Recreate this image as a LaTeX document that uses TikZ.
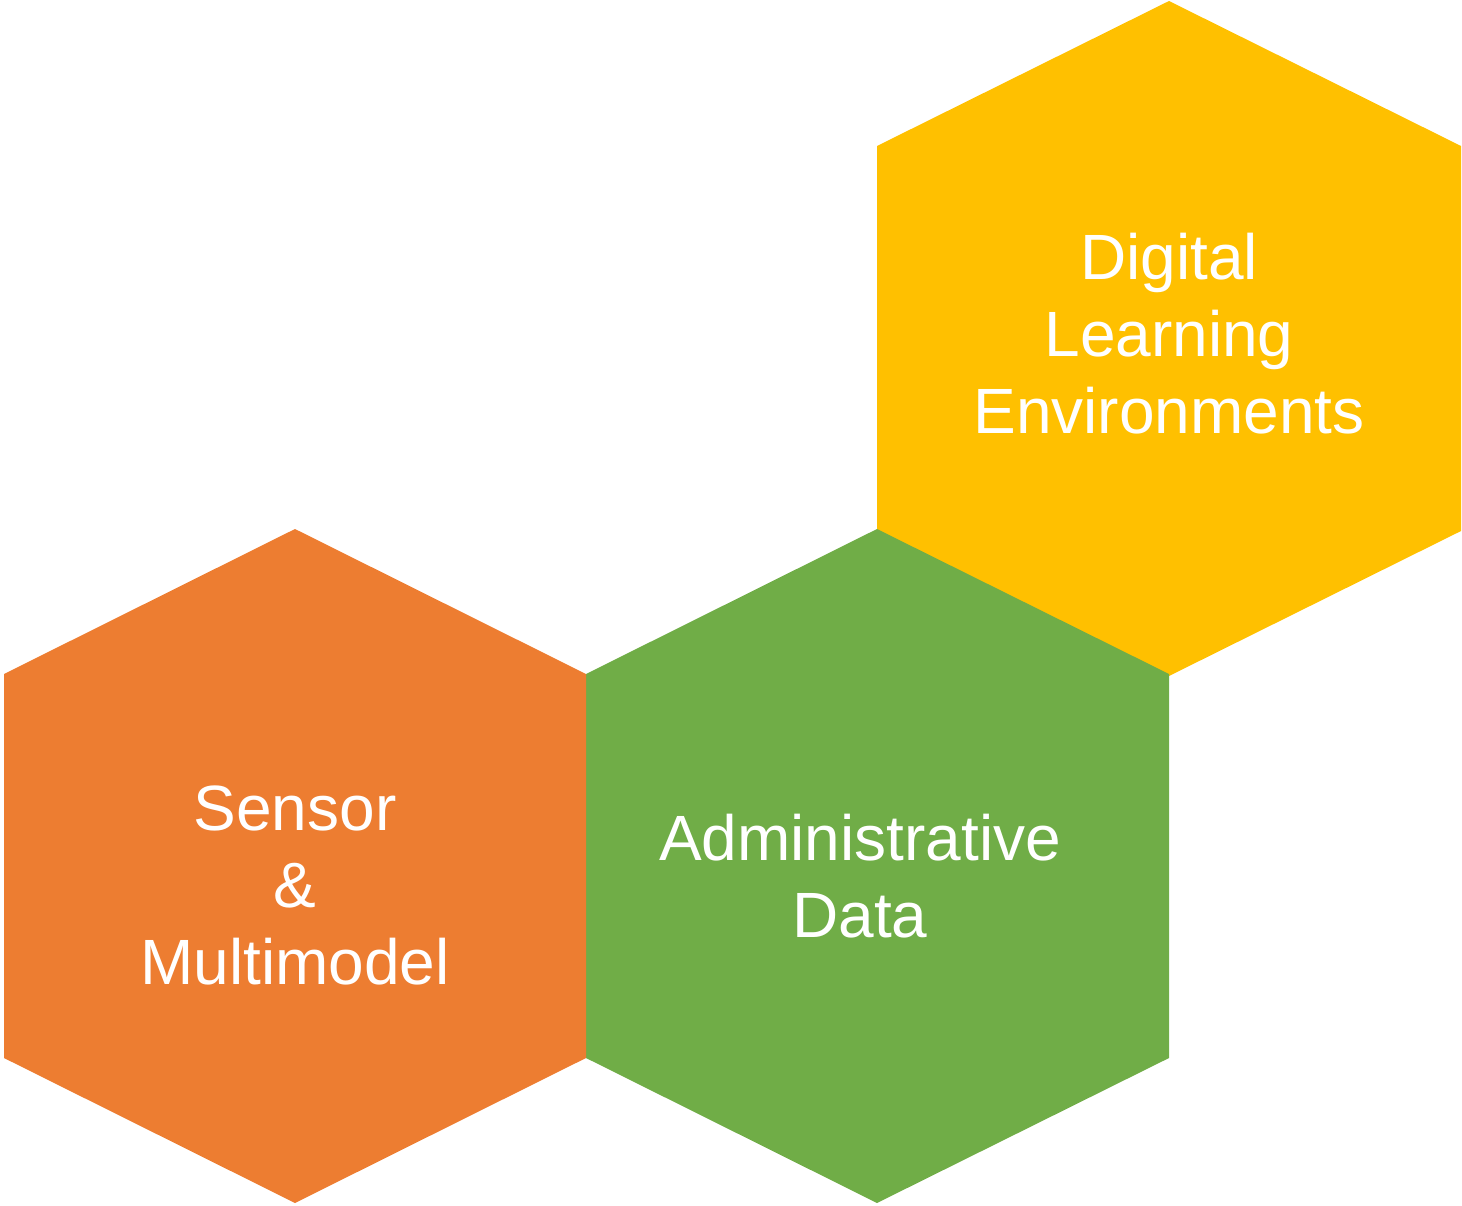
\documentclass[tikz,border=0pt]{standalone}
\usepackage{fontspec}
\setmainfont{Liberation Sans}
\definecolor{hexorange}{HTML}{ED7D31}
\definecolor{hexgreen}{HTML}{70AD47}
\definecolor{hexyellow}{HTML}{FFC000}
\begin{document}
\begin{tikzpicture}[x=1pt,y=-1pt,
  hexlabel/.style={text=white,align=center,inner sep=0pt,
    font=\fontsize{64}{77}\selectfont}]
\useasboundingbox (0,0) rectangle (1462,1205);
% three honeycomb cells
\fill[hexyellow] (1169,1) -- (1461,146) -- (1461,531) -- (1169,676) -- (877,531) -- (877,146) -- cycle;
\fill[hexgreen] (877,529) -- (1169,674) -- (1169,1058) -- (877,1203) -- (586,1058) -- (586,674) -- cycle;
\fill[hexorange] (295,529) -- (586,674) -- (586,1058) -- (295,1203) -- (4,1058) -- (4,674) -- cycle;
% labels
\node[hexlabel] (dle) at (1169,334) {Digital\\Learning\\Environments};
\node[hexlabel] (adm) at (860,876) {Administrative\\Data};
\node[hexlabel] (sen) at (295,885) {Sensor\\\&\\Multimodel};
\end{tikzpicture}
\end{document}
